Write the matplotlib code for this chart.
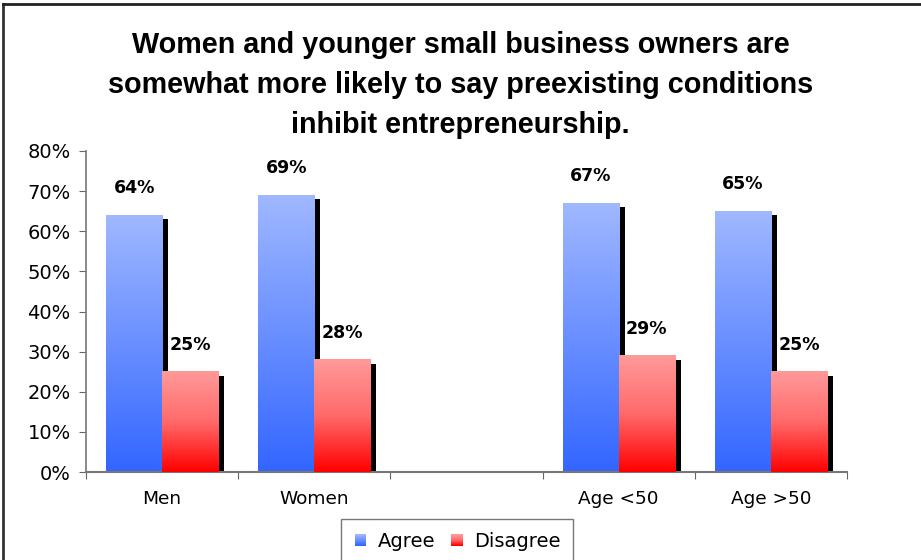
import numpy as np
import matplotlib
matplotlib.use("Agg")
import matplotlib.pyplot as plt
from matplotlib.colors import LinearSegmentedColormap
from matplotlib.lines import Line2D
from matplotlib.patches import Rectangle
from matplotlib.legend_handler import HandlerBase

plt.rcParams['font.family'] = ['DejaVu Sans']

categories = ["Men", "Women", "", "Age <50", "Age >50"]
agree = [64, 69, None, 67, 65]
disagree = [25, 28, None, 29, 25]
series_names = ["Agree", "Disagree"]
title = ("Women and younger small business owners are\n"
         "somewhat more likely to say preexisting conditions\n"
         "inhibit entrepreneurship.")

blue_cmap = LinearSegmentedColormap.from_list("blue", ["#3366ff", "#a0b8ff"])
red_cmap = LinearSegmentedColormap.from_list("red", ["#ff0000", "#ff6a6a", "#ff9a9a"])

fig = plt.figure(figsize=(9.21, 5.6), dpi=100)
ax = fig.add_axes([86 / 921, 1 - 472 / 560, (847 - 86) / 921, (472 - 151) / 560])

bar_w = 0.368
shadow_w = 0.04
x = np.arange(len(categories))
centers = x + 0.5


def clean(vals):
    return np.array([np.nan if v is None else v for v in vals], dtype=float)


a = clean(agree)
d = clean(disagree)

grad = np.linspace(0, 1, 256).reshape(-1, 1)


def gradient_bars(pos, vals, cmap, z):
    bars = ax.bar(pos, vals, width=bar_w, color="none", zorder=z)
    for rect, v in zip(bars, vals):
        if np.isnan(v):
            continue
        x0 = rect.get_x()
        x1 = x0 + rect.get_width()
        ax.imshow(grad, cmap=cmap, origin="lower", aspect="auto",
                  extent=(x0, x1, 0, rect.get_height()), zorder=z,
                  interpolation="bilinear")
    return bars


# drop shadows on the right side of each bar
for pos, vals in ((centers - bar_w / 2, a), (centers + bar_w / 2, d)):
    ax.bar(pos + bar_w / 2 + shadow_w / 2, vals - 1, width=shadow_w,
           color="black", zorder=1)

gradient_bars(centers - bar_w / 2, a, blue_cmap, 2)
gradient_bars(centers + bar_w / 2, d, red_cmap, 3)

for pos, vals in ((centers - bar_w / 2, a), (centers + bar_w / 2, d)):
    for p, v in zip(pos, vals):
        if np.isnan(v):
            continue
        ax.annotate(f"{v:.0f}%", (p, v), xytext=(0, 27), textcoords="offset pixels",
                    ha="center", va="center", fontsize=12.5, fontweight="bold",
                    zorder=5)

ax.set_xlim(0, len(categories))
ax.set_ylim(0, 80)
ax.set_yticks(np.arange(0, 81, 10))
ax.set_yticklabels([f"{t}%" for t in range(0, 81, 10)], fontsize=14)
ax.set_xticks(np.arange(0, len(categories) + 1))
ax.set_xticklabels([])
ax.set_xticks(centers, minor=True)
ax.set_xticklabels(categories, minor=True, fontsize=13.3)
ax.tick_params(axis="x", which="minor", length=0, pad=13)
ax.tick_params(axis="x", which="major", direction="out", length=5, color="#666666")
ax.tick_params(axis="y", direction="out", length=5, color="#666666", pad=6)

for s in ("top", "right"):
    ax.spines[s].set_visible(False)
ax.spines["left"].set_color("#777777")
ax.spines["bottom"].set_color("#777777")
ax.spines["bottom"].set_linewidth(1.5)
ax.spines["left"].set_linewidth(1.2)

fig.text(0.5, 1 - 85 / 560, title, ha="center", va="center", fontsize=20.7,
         fontweight="bold", linespacing=1.55,
         family=["Liberation Sans", "DejaVu Sans"])


class GradientHandler(HandlerBase):
    def __init__(self, cmap):
        super().__init__()
        self.cmap = cmap

    def create_artists(self, legend, orig_handle, xdescent, ydescent, width,
                       height, fontsize, trans):
        size = height * 0.85
        x0 = xdescent + (width - size) / 2
        y0 = -ydescent + (height - size) / 2
        n = 12
        artists = []
        for i in range(n):
            artists.append(Rectangle((x0, y0 + size * i / n), size, size / n + 0.3,
                                     facecolor=self.cmap(i / (n - 1)),
                                     edgecolor="none", transform=trans))
        return artists


h_agree = Rectangle((0, 0), 1, 1)
h_dis = Rectangle((0, 0), 1, 1)
leg = fig.legend([h_agree, h_dis], series_names, loc="upper center",
                 bbox_to_anchor=(457 / 921, 1 - 519 / 560), ncol=2,
                 fontsize=14, frameon=True, fancybox=False,
                 handler_map={h_agree: GradientHandler(blue_cmap),
                              h_dis: GradientHandler(red_cmap)},
                 handlelength=0.75, handletextpad=0.5, columnspacing=0.75,
                 borderpad=0.65, borderaxespad=0)
leg.get_frame().set_edgecolor("#555555")
leg.get_frame().set_linewidth(1.0)

# outer chart border
fig.add_artist(Line2D([3 / 921, 3 / 921], [0, 1 - 4 / 560], color="#333333",
                      lw=2, transform=fig.transFigure))
fig.add_artist(Line2D([3 / 921, 1], [1 - 4 / 560, 1 - 4 / 560], color="#222222",
                      lw=2, transform=fig.transFigure))

fig.savefig("out.png", dpi=100)
